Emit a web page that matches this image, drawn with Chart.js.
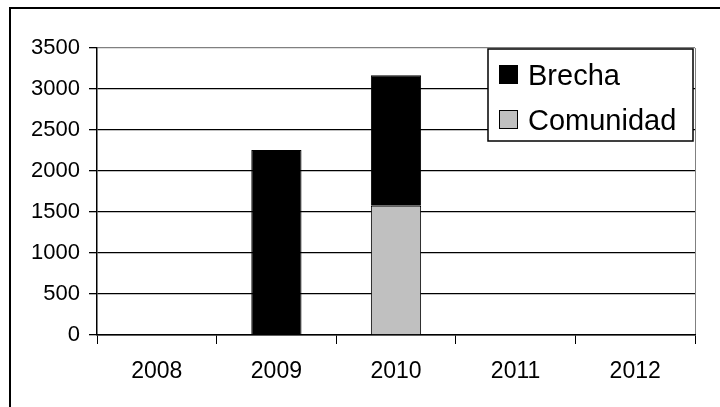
<!DOCTYPE html>
<html>
<head>
<meta charset="utf-8">
<script src="https://cdn.jsdelivr.net/npm/chart.js@4/dist/chart.umd.min.js"></script>
<style>
  html, body { margin: 0; padding: 0; background: #fff; overflow: hidden; }
  #wrap { position: relative; width: 720px; height: 407px; }
  #frame { position: absolute; left: 9px; top: 7px; width: 800px; height: 500px;
           border-left: 2px solid #000; border-top: 2px solid #000; }
  canvas { position: absolute; left: 0; top: 0; }
</style>
</head>
<body>
<div id="wrap">
  <div id="frame"></div>
  <canvas id="c" width="720" height="407"></canvas>
</div>
<script>
// ---- data ----
const categories = ['2008', '2009', '2010', '2011', '2012'];
const comunidad = [null, null, 1575, null, null];
const brecha = [null, 2255, 1593, null, null];
const yTicks = [0, 500, 1000, 1500, 2000, 2500, 3000, 3500];

const FONT = '"Liberation Sans", Arial, sans-serif';

const legendBox = {
  id: 'legendBox',
  afterDraw(chart) {
    const ctx = chart.ctx;
    const area = chart.chartArea;
    const x0 = area.right - 207, y0 = area.top + 1, w = 205, h = 92;
    ctx.save();
    ctx.fillStyle = '#fff';
    ctx.fillRect(x0, y0, w, h);
    ctx.lineWidth = 1.5;
    ctx.strokeStyle = '#000';
    ctx.strokeRect(x0, y0, w, h);
    const items = chart.data.datasets.slice().reverse();
    ctx.font = '29px ' + FONT;
    ctx.textBaseline = 'alphabetic';
    ctx.textAlign = 'left';
    items.forEach((ds, i) => {
      const baseY = y0 + 36 + i * 45;
      ctx.fillStyle = ds.backgroundColor;
      ctx.fillRect(x0 + 11, baseY - 20, 19, 19);
      ctx.lineWidth = 1;
      ctx.strokeStyle = '#000';
      ctx.strokeRect(x0 + 11.5, baseY - 19.5, 18, 18);
      ctx.fillStyle = '#000';
      ctx.fillText(ds.label, x0 + 40, baseY);
    });
    ctx.restore();
  }
};

new Chart(document.getElementById('c'), {
  type: 'bar',
  data: {
    labels: categories,
    datasets: [
      { label: 'Comunidad', data: comunidad, backgroundColor: '#C0C0C0',
        borderColor: '#000', borderWidth: 1 },
      { label: 'Brecha', data: brecha, backgroundColor: '#000000',
        borderColor: '#000', borderWidth: 1 }
    ]
  },
  options: {
    responsive: false,
    animation: false,
    devicePixelRatio: 1,
    layout: { padding: { top: 48, right: 25, left: 0, bottom: 0 } },
    plugins: { legend: { display: false }, tooltip: { enabled: false } },
    datasets: { bar: { categoryPercentage: 1, barPercentage: 0.42 } },
    scales: {
      x: {
        stacked: true,
        offset: true,
        grid: {
          offset: true,
          drawOnChartArea: true,
          color: (c) => (c.index === undefined ? '#808080' : 'rgba(0,0,0,0)'),
          tickColor: '#000',
          tickLength: 9,
          lineWidth: 1
        },
        border: { color: '#000', width: 1.5 },
        ticks: { color: '#000', font: { family: FONT, size: 23 }, padding: 14,
                 maxRotation: 0, autoSkip: false },
        afterFit(s) { s.height = 72; }
      },
      y: {
        stacked: true,
        min: 0, max: 3500,
        afterBuildTicks(s) { s.ticks = yTicks.map(v => ({ value: v })); },
        grid: {
          color: (c) => (c.tick && c.tick.value === 3500 ? '#808080' : '#000'),
          tickColor: '#000',
          tickLength: 8,
          lineWidth: 1.3
        },
        border: { color: '#000', width: 1.5 },
        ticks: { color: '#000', font: { family: FONT, size: 22 }, padding: 9,
                 callback: (v) => String(v) },
        afterFit(s) { s.width = 97; }
      }
    }
  },
  plugins: [legendBox]
});
</script>
</body>
</html>
